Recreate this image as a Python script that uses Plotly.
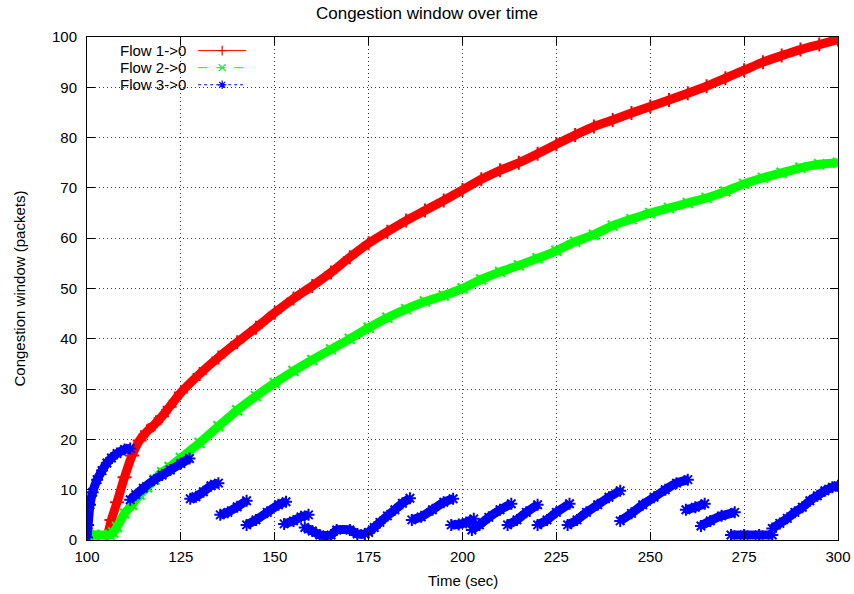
import plotly.graph_objects as go

# Congestion window samples (time in seconds, cwnd in packets)
red_t = [105.5, 106.5, 108, 110, 112, 114, 116, 118, 120, 122, 125, 130, 135, 140, 145,
         150, 155, 160, 165, 170, 175, 180, 185, 190, 195, 200, 205, 210, 215, 220,
         225, 230, 235, 240, 245, 250, 255, 260, 265, 270, 275, 280, 285, 290, 295, 300]
red_y = [1, 4, 7.5, 12.5, 16.8, 19.8, 21.6, 23, 24.6, 26.5, 29.3, 33, 36.3, 39.3, 42.2,
         45.2, 48, 50.5, 53.2, 56.2, 59, 61.3, 63.5, 65.5, 67.5, 69.6, 71.7, 73.5, 75, 76.8,
         78.7, 80.5, 82.2, 83.5, 84.9, 86.2, 87.5, 88.8, 90.2, 91.8, 93.4, 95, 96.3, 97.5, 98.5, 99.5]

green_t = [100.5, 102, 104, 106, 107, 108, 110, 112, 114, 116, 118, 120, 122, 125, 130,
           135, 140, 145, 150, 155, 160, 165, 170, 175, 180, 185, 190, 195, 200, 205,
           210, 215, 220, 225, 230, 235, 240, 245, 250, 255, 260, 265, 270, 275, 280,
           285, 290, 295, 300]
green_y = [1, 1, 1, 1, 1.5, 2.6, 5.3, 7, 9, 10.5, 12, 13.5, 14.5, 16.3, 19.3,
           22.6, 25.8, 28.6, 31.2, 33.6, 35.8, 37.9, 40, 42.2, 44.2, 45.9, 47.4, 48.6, 50, 51.8,
           53.3, 54.6, 56, 57.5, 59.3, 60.7, 62.5, 63.8, 65, 66, 67, 68, 69.3, 70.8, 72,
           73, 74, 74.7, 75]

# Flow 3 restarts its window several times; None breaks the trace between runs
blue_t = [100, 100.3, 100.8, 101.5, 102.7, 104, 105.3, 106.5, 108, 110, 111.5, None,
          111.5, 113, 115, 117.8, 120, 122.2, 125, 127.3, None,
          127.5, 129, 131, 133, 135, None,
          135.5, 137.5, 140, 142.5, None,
          142.5, 145, 148, 151, 153, None,
          152.5, 155, 157, 159, None,
          158, 160, 162, 165, 166.5, 170, 172, 174, None,
          175, 176.5, 178, 180, 182, 184, 186, None,
          186.5, 189, 192, 195, 197.5, None,
          197, 199, 201, 203, None,
          202.5, 204.5, 207, 210, 213, None,
          212, 214.5, 217, 220, None,
          220, 222.5, 225, 228.5, None,
          228, 230.5, 233, 236, 239, 242, None,
          242, 245, 248, 251, 254, 257, 260, None,
          259.5, 262, 264.5, None,
          263.5, 266, 269, 272.5, None,
          271.5, 275, 279, 282.5, None,
          282.5, 284.5, 286.5, 288.5, 290.5, 292.5, 294.5, 296.5, 298.5, 300]
blue_y = [0.5, 3, 7, 9.5, 12, 13.8, 15.3, 16.3, 17.2, 18, 18.2, None,
          8, 9, 10.3, 11.9, 12.9, 13.9, 15.2, 16.2, None,
          8.2, 8.6, 9.6, 10.8, 11.3, None,
          5, 5.5, 6.6, 7.8, None,
          3, 4, 5.5, 7, 7.6, None,
          3.2, 3.8, 4.6, 5, None,
          2.5, 1.8, 1, 1, 2, 2, 1.2, 1.2, None,
          1.5, 2.5, 3.5, 4.8, 6, 7.3, 8.3, None,
          4, 4.6, 6, 7.5, 8.2, None,
          3, 3.1, 3.5, 4.2, None,
          2, 3, 4.5, 6, 7.2, None,
          3, 4, 5.5, 7, None,
          3, 4, 5.5, 7.2, None,
          3, 4, 5.5, 7, 8.5, 9.8, None,
          3.8, 5.3, 7, 8.5, 10, 11.3, 12, None,
          6, 6.5, 7.2, None,
          2.8, 3.8, 4.8, 5.5, None,
          1, 1, 1, 1, None,
          2.3, 3.3, 4.3, 5.5, 6.5, 7.8, 8.8, 9.8, 10.5, 10.8]

series_names = ["Flow 1->0", "Flow 2->0", "Flow 3->0"]
series_colors = ["#ff0000", "#00ff00", "#0000ff"]
series_symbols = ["cross-thin", "x-thin", "asterisk"]
series_dashes = ["solid", "dash", "dot"]

x_ticks = [100, 125, 150, 175, 200, 225, 250, 275, 300]
y_ticks = [0, 10, 20, 30, 40, 50, 60, 70, 80, 90, 100]

FONT = "Liberation Sans, Arial, sans-serif"
TXT = dict(family=FONT, size=15, color="black")

fig = go.Figure()

for t, y, color, sym in zip([red_t, green_t, blue_t], [red_y, green_y, blue_y],
                            series_colors, series_symbols):
    fig.add_trace(go.Scatter(
        x=t, y=y, mode="lines+markers", showlegend=False, hoverinfo="skip",
        line=dict(color=color, width=9, shape="spline", smoothing=0.6),
        marker=dict(symbol=sym, size=10, color=color,
                    line=dict(color=color, width=2)),
    ))

# Key: label on the left, line sample with a centred point on the right
key_rows = [0.973, 0.939, 0.905]
key_x0, key_x1 = 0.148, 0.212
for name, color, sym, dash, ky in zip(series_names, series_colors, series_symbols,
                                       series_dashes, key_rows):
    fig.add_trace(go.Scatter(
        x=[key_x0, key_x1], y=[ky, ky], mode="lines", xaxis="x2", yaxis="y2",
        showlegend=False, hoverinfo="skip",
        line=dict(color=color, width=1, dash=dash),
    ))
    fig.add_trace(go.Scatter(
        x=[(key_x0 + key_x1) / 2], y=[ky], mode="markers", xaxis="x2", yaxis="y2",
        showlegend=False, hoverinfo="skip",
        marker=dict(symbol=sym, size=7, color=color, line=dict(color=color, width=1.2)),
    ))
    fig.add_annotation(x=0.134, y=ky, xref="paper", yref="paper", text=name,
                       showarrow=False, xanchor="right", yanchor="middle", font=TXT)

# blank out the grid behind the key
fig.add_shape(type="rect", xref="paper", yref="paper", x0=0.002, x1=0.222,
              y0=0.885, y1=0.992, fillcolor="white", line=dict(width=0),
              layer="between")

# axis titles
fig.add_annotation(x=0.5, y=0, xref="paper", yref="paper", yshift=-40,
                   text="Time (sec)", showarrow=False, xanchor="center",
                   yanchor="middle", font=TXT)
fig.add_annotation(x=0, y=0.5, xref="paper", yref="paper", xshift=-68,
                   text="Congestion window (packets)", showarrow=False,
                   textangle=-90, xanchor="center", yanchor="middle", font=TXT)

axis_common = dict(
    showline=True, linecolor="black", linewidth=1, mirror="ticks",
    ticks="inside", ticklen=8, tickcolor="black", tickwidth=1,
    showgrid=True, gridcolor="#3a3a3a", griddash="1px,3px", gridwidth=1,
    zeroline=False, tickfont=TXT, automargin=False,
)

fig.update_layout(
    width=854, height=594,
    margin=dict(l=87, r=16, t=37, b=54),
    paper_bgcolor="white", plot_bgcolor="white",
    title=dict(text="Congestion window over time", x=0.5, xanchor="center",
               y=0.978, yanchor="middle",
               font=dict(family=FONT, size=17, color="black")),
    xaxis=dict(range=[100, 300], tickvals=x_ticks, ticklabelstandoff=3, **axis_common),
    yaxis=dict(range=[0, 100], tickvals=y_ticks, ticklabelstandoff=6, **axis_common),
    xaxis2=dict(range=[0, 1], overlaying="x", visible=False, fixedrange=True),
    yaxis2=dict(range=[0, 1], overlaying="y", visible=False, fixedrange=True),
    showlegend=False,
)

fig.write_html("out.html")
